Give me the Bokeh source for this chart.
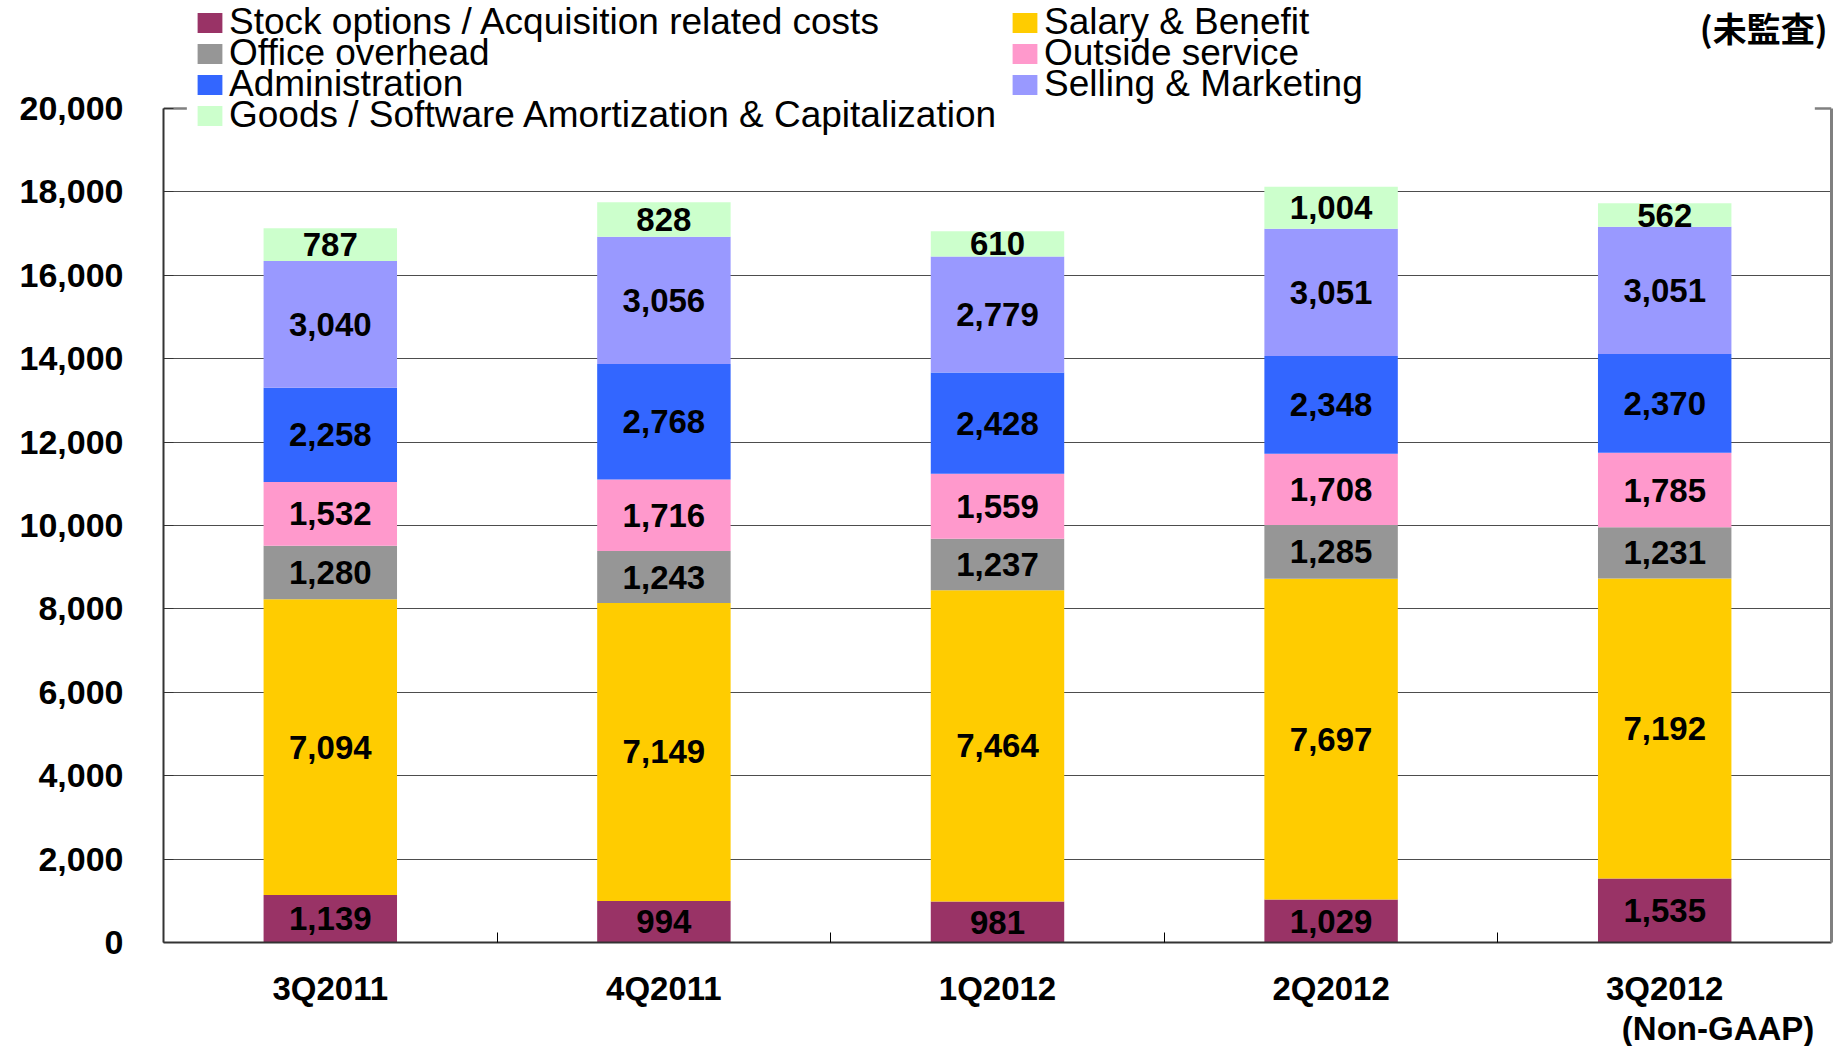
from bokeh.plotting import figure
from bokeh.models import (ColumnDataSource, Range1d, LinearAxis, FixedTicker,
                          NumeralTickFormatter, Legend, LegendItem, Label)
from bokeh.core.properties import value
from bokeh.embed import file_html
from bokeh.resources import INLINE
import numpy as np

# ---- data ----
quarters = ["3Q2011", "4Q2011", "1Q2012", "2Q2012", "3Q2012"]
stock_options = [1139, 994, 981, 1029, 1535]
salary = [7094, 7149, 7464, 7697, 7192]
office = [1280, 1243, 1237, 1285, 1231]
outside = [1532, 1716, 1559, 1708, 1785]
administration = [2258, 2768, 2428, 2348, 2370]
selling = [3040, 3056, 2779, 3051, 3051]
goods = [787, 828, 610, 1004, 562]

series_keys = ["stock", "salary", "office", "outside", "admin", "selling", "goods"]
series_names = ["Stock options / Acquisition related costs", "Salary & Benefit",
                "Office overhead", "Outside service", "Administration",
                "Selling & Marketing", "Goods / Software Amortization & Capitalization"]
series_values = [stock_options, salary, office, outside, administration, selling, goods]
colors = ["#993366", "#FFCC00", "#969696", "#FF99CC", "#3366FF", "#9999FF", "#CCFFCC"]
y_ticks = list(range(0, 20001, 2000))
unit_note = "(未監査)"
last_note = "(Non-GAAP)"

FONT = "Liberation Sans"

# ---- layout (pixels) ----
FRAME_W = 1668
PLOT_H = 834          # height of the 0..20,000 area
TOP_SPACE = 108       # area above 20,000 used by the legend
y_max = y_ticks[-1]
y_top = y_max * (PLOT_H + TOP_SPACE) / PLOT_H

xs = np.arange(len(quarters)) + 0.5
data = {"x": xs}
for k, v in zip(series_keys, series_values):
    data[k] = v
source = ColumnDataSource(data)

p = figure(frame_width=FRAME_W, frame_height=PLOT_H + TOP_SPACE,
           output_backend="svg", toolbar_location=None,
           x_range=Range1d(0, len(quarters)), y_range=Range1d(0, y_top),
           x_axis_location=None, y_axis_location=None,
           min_border_left=163, min_border_right=4, min_border_top=0, min_border_bottom=98)
p.background_fill_color = "white"
p.border_fill_color = "white"
p.outline_line_color = None

renderers = p.vbar_stack(series_keys, x="x", width=0.4, color=colors, line_color=None,
                         source=source)

# visible ends of the top border (the middle is hidden behind the legend)
n = len(quarters)
p.segment(x0=[0, n - 0.05], y0=[y_max, y_max], x1=[0.07, n], y1=[y_max, y_max],
          line_color="#808080", line_width=2.5)

# value labels
bottoms = np.zeros(n)
lx, ly, lt = [], [], []
for v in series_values:
    arr = np.array(v, dtype=float)
    mids = bottoms + arr / 2
    lx.extend(xs.tolist())
    ly.extend(mids.tolist())
    lt.extend([f"{int(val):,}" for val in v])
    bottoms = bottoms + arr
p.text(x=lx, y=ly, text=lt, text_align="center", text_baseline="middle",
       text_font=value(FONT), text_font_style="bold", text_font_size="33px",
       text_color="black")

# left y axis
yaxis = LinearAxis(ticker=FixedTicker(ticks=y_ticks), bounds=(0, y_max),
                   formatter=NumeralTickFormatter(format="0,0"))
yaxis.axis_line_color = "#333333"
yaxis.axis_line_width = 2
yaxis.major_tick_in = 10
yaxis.major_tick_out = 0
yaxis.major_tick_line_color = "#333333"
yaxis.minor_tick_line_color = None
yaxis.major_label_text_font = FONT
yaxis.major_label_text_font_style = "bold"
yaxis.major_label_text_font_size = "34px"
yaxis.major_label_text_color = "black"
yaxis.major_label_standoff = 40
p.add_layout(yaxis, "left")

# right border
raxis = LinearAxis(ticker=FixedTicker(ticks=[]), bounds=(0, y_max))
raxis.axis_line_color = "#808080"
raxis.axis_line_width = 3
raxis.major_tick_line_color = None
raxis.minor_tick_line_color = None
raxis.major_label_text_font_size = "0px"
p.add_layout(raxis, "right")

# x axis
xaxis = LinearAxis(ticker=FixedTicker(ticks=xs.tolist(),
                                      minor_ticks=list(range(1, n))))
xaxis.major_label_overrides = {float(x): q for x, q in zip(xs, quarters)}
xaxis.axis_line_color = "#333333"
xaxis.axis_line_width = 2
xaxis.major_tick_line_color = None
xaxis.major_tick_in = 0
xaxis.major_tick_out = 0
xaxis.minor_tick_in = 10
xaxis.minor_tick_out = 0
xaxis.minor_tick_line_color = "black"
xaxis.major_label_text_font = FONT
xaxis.major_label_text_font_style = "bold"
xaxis.major_label_text_font_size = "33px"
xaxis.major_label_text_color = "black"
xaxis.major_label_standoff = 27
p.add_layout(xaxis, "below")

# second line under the last category
note_x = float(xs[-1] + 0.16)
xaxis2 = LinearAxis(ticker=FixedTicker(ticks=[note_x]))
xaxis2.major_label_overrides = {note_x: last_note}
xaxis2.axis_line_color = None
xaxis2.major_tick_line_color = None
xaxis2.minor_tick_line_color = None
xaxis2.major_tick_in = 0
xaxis2.major_tick_out = 0
xaxis2.major_label_text_font = FONT
xaxis2.major_label_text_font_style = "bold"
xaxis2.major_label_text_font_size = "33px"
xaxis2.major_label_text_color = "black"
xaxis2.major_label_standoff = 0
p.add_layout(xaxis2, "below")

p.xgrid.visible = False
p.ygrid.ticker = FixedTicker(ticks=y_ticks[:-1])
p.ygrid.grid_line_color = "#4d4d4d"
p.ygrid.grid_line_width = 1

# legend: two columns, laid out one row at a time
legend_rows = [[0, 1], [2, 3], [4, 5], [6]]
for r, idx in enumerate(legend_rows):
    leg = Legend(items=[LegendItem(label=series_names[i], renderers=[renderers[i]]) for i in idx],
                 location=(31, 806 + 31 * (len(legend_rows) - 1 - r)),
                 orientation="horizontal", padding=7, margin=0, spacing=0,
                 glyph_width=31, glyph_height=25, label_height=25, label_standoff=4,
                 label_width=780,
                 label_text_font=FONT, label_text_font_size="37px", label_text_color="black",
                 border_line_color=None, background_fill_alpha=0)
    p.add_layout(leg, "center")

# unit note, top right
p.add_layout(Label(x=n, y=PLOT_H + TOP_SPACE - 2, x_units="data", y_units="screen",
                   x_offset=-4, text=unit_note, text_align="right", text_baseline="top",
                   text_font="Noto Sans CJK JP", text_font_style="bold",
                   text_font_size="34px", text_color="black", level="overlay"))

open("out.html", "w").write(file_html(p, INLINE))
